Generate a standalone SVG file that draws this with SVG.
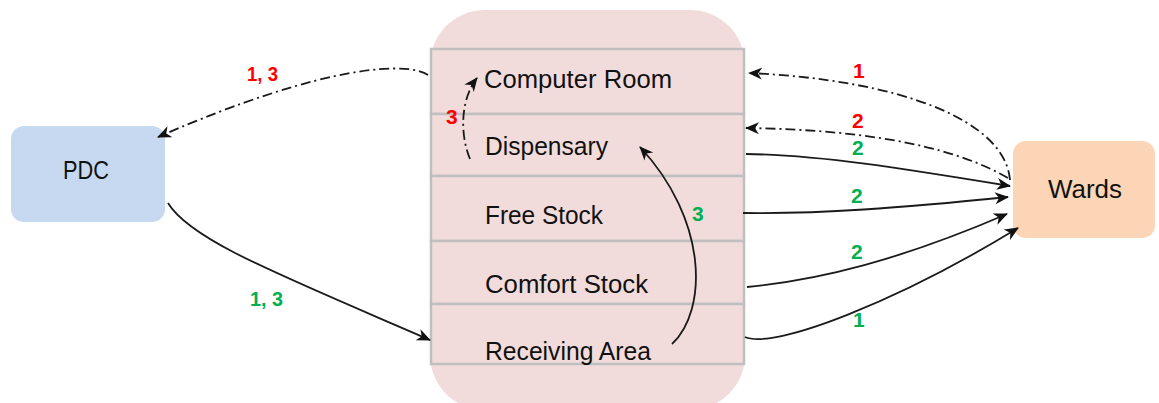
<svg xmlns="http://www.w3.org/2000/svg" width="1159" height="403" viewBox="0 0 1159 403">
<style>
.lbl{font-family:"Liberation Sans",Arial,sans-serif;font-size:25.5px;fill:#111}
.num{font-family:"Liberation Sans",Arial,sans-serif;font-size:21px;font-weight:bold}
.red{fill:#ff0000}
.grn{fill:#00b050}
.row{fill:#f2dcdb;stroke:#bfbfbf;stroke-width:2.5}
.c{fill:none;stroke:#1a1a1a;stroke-width:1.8}
.dd{stroke-dasharray:10 4 2 4}
</style>
<defs>
<marker id="ah" markerUnits="userSpaceOnUse" markerWidth="16" markerHeight="14" refX="13" refY="6" orient="auto">
<path d="M0,0 L14,6 L0,12 L4,6 z" fill="#111"/>
</marker>
</defs>
<g id="store">
<rect x="430" y="10" width="315" height="400" rx="55" fill="#f2dcdb"/>
<rect class="row" x="431" y="49" width="313" height="65"/>
<rect class="row" x="431" y="114" width="313" height="62"/>
<rect class="row" x="431" y="176" width="313" height="65"/>
<rect class="row" x="431" y="241" width="313" height="63"/>
<rect class="row" x="431" y="304" width="313" height="60"/>
<text class="lbl" x="484" y="88" textLength="188" lengthAdjust="spacingAndGlyphs">Computer Room</text>
<text class="lbl" x="485" y="155" textLength="123" lengthAdjust="spacingAndGlyphs">Dispensary</text>
<text class="lbl" x="485" y="224" textLength="118" lengthAdjust="spacingAndGlyphs">Free Stock</text>
<text class="lbl" x="485" y="293" textLength="163" lengthAdjust="spacingAndGlyphs">Comfort Stock</text>
<text class="lbl" x="485" y="360" textLength="166" lengthAdjust="spacingAndGlyphs">Receiving Area</text>
</g>
<g id="pdc">
<rect x="11" y="126" width="154" height="96" rx="13" fill="#c6d9f1"/>
<text class="lbl" x="63" y="179" textLength="46" lengthAdjust="spacingAndGlyphs">PDC</text>
</g>
<g id="wards">
<rect x="1013" y="141" width="142" height="97" rx="13" fill="#fbd5b5"/>
<text class="lbl" x="1048" y="198" textLength="74" lengthAdjust="spacingAndGlyphs">Wards</text>
</g>
<g id="connectors">
<path class="c dd" d="M428,75 C410,62 330,62 158,137" marker-end="url(#ah)"/>
<path class="c" d="M168,203 C190,240 280,275 430,340" marker-end="url(#ah)"/>
<path class="c dd" d="M470,159 C460,135 460,100 477,78" marker-end="url(#ah)"/>
<path class="c" d="M672,344 C708,310 708,220 640,147" marker-end="url(#ah)"/>
<path class="c dd" d="M1010,180 C1005,120 900,80 749,73" marker-end="url(#ah)"/>
<path class="c dd" d="M1008,178 C960,150 880,130 746,128" marker-end="url(#ah)"/>
<path class="c" d="M746,154 C820,155 900,168 1010,186" marker-end="url(#ah)"/>
<path class="c" d="M743,213 C820,214 900,208 1008,197" marker-end="url(#ah)"/>
<path class="c" d="M747,287 C820,280 900,260 1007,214" marker-end="url(#ah)"/>
<path class="c" d="M745,337 C775,350 900,300 1018,228" marker-end="url(#ah)"/>
</g>
<g id="labels">
<text class="num red" x="247" y="81" textLength="31" lengthAdjust="spacingAndGlyphs">1, 3</text>
<text class="num grn" x="250" y="306" textLength="33" lengthAdjust="spacingAndGlyphs">1, 3</text>
<text class="num red" x="446" y="124">3</text>
<text class="num grn" x="692" y="221">3</text>
<text class="num red" x="853" y="78">1</text>
<text class="num red" x="852" y="128">2</text>
<text class="num grn" x="852" y="155">2</text>
<text class="num grn" x="851" y="203">2</text>
<text class="num grn" x="851" y="259">2</text>
<text class="num grn" x="853" y="327">1</text>
</g>
</svg>
